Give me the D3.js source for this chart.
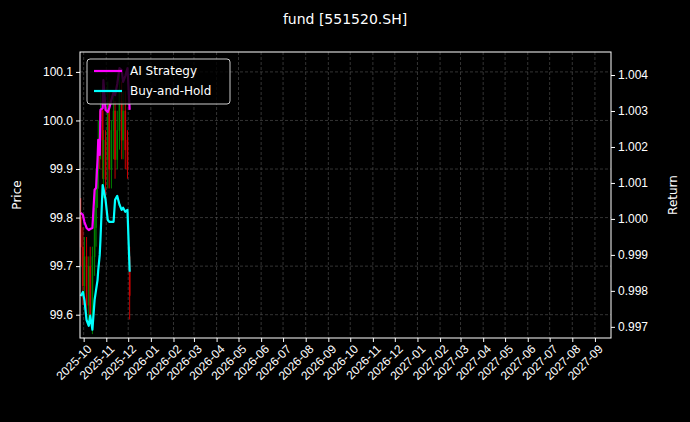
<!DOCTYPE html>
<html><head><meta charset="utf-8">
<script src="https://cdn.jsdelivr.net/npm/d3@7"></script>
<style>body{margin:0;background:#000}svg{font-family:"DejaVu Sans",sans-serif}</style>
</head><body><svg id="c" width="690" height="422"></svg>
<script>
const title = "fund [551520.SH]";
const dates = ["2025-09-27","2025-09-30","2025-10-02","2025-10-05","2025-10-08","2025-10-10","2025-10-13","2025-10-16","2025-10-18","2025-10-20","2025-10-21","2025-10-23","2025-10-24","2025-10-27","2025-10-28","2025-10-31","2025-11-03","2025-11-05","2025-11-08","2025-11-11","2025-11-13","2025-11-16","2025-11-19","2025-11-22","2025-11-24","2025-11-27","2025-11-30","2025-12-03"];
const aiStrategy = [1.00017,1.00011,0.99992,0.99975,0.99969,0.99972,0.99975,1.00081,1.00086,1.00164,1.0022,1.00178,1.00303,1.00308,1.00386,1.00303,1.00297,1.00308,1.00331,1.00353,1.00344,1.00375,1.00419,1.00414,1.00381,1.00397,1.00419,1.00303];
const buyHold = [0.99786,0.99797,0.99775,0.99719,0.99703,0.99731,0.99692,0.99775,0.99803,0.9983,0.99858,0.999,0.99942,1.00094,1.00086,1.00053,0.99997,0.99992,0.99992,0.99992,1.00053,1.00064,1.0004,1.00025,1.00031,1.0002,1.00025,0.99853];
const open  = [99.80,99.74,99.66,99.72,99.62,99.70,99.60,99.72,99.78,99.86,99.90,99.98,99.96,100.02,99.88,99.96,99.92,100.04,99.90,99.98,100.02,99.92,99.98,100.04,99.96,100.02,99.96,99.72];
const close = [99.74,99.66,99.72,99.62,99.70,99.60,99.72,99.78,99.86,99.90,99.96,99.94,100.02,99.92,99.96,99.88,100.04,99.90,99.98,100.02,99.92,99.98,100.06,99.96,100.02,99.94,99.90,99.64];
const high  = [99.84,99.78,99.76,99.76,99.72,99.74,99.74,99.82,99.90,99.94,100.00,100.02,100.06,100.06,99.98,99.98,100.08,100.06,100.00,100.06,100.04,100.02,100.10,100.08,100.06,100.06,99.98,99.74];
const low   = [99.70,99.62,99.64,99.60,99.58,99.58,99.56,99.68,99.74,99.82,99.86,99.90,99.92,99.88,99.84,99.84,99.86,99.86,99.86,99.92,99.88,99.90,99.94,99.92,99.92,99.90,99.88,99.59];
const priceTicks = [99.6,99.7,99.8,99.9,100.0,100.1];
const returnTicks = [0.997,0.998,0.999,1.000,1.001,1.002,1.003,1.004];
const legendNames = ["AI Strategy","Buy-and-Hold"];
const colors = ["#ff00ff","#00ffff"];

const svg = d3.select("#c");
svg.append("rect").attr("width",690).attr("height",422).attr("fill","#000");
const L=80,R=611,T=52,B=338;
const p = d3.timeParse("%Y-%m-%d");
const x = d3.scaleTime().domain([p("2025-09-26"),p("2027-09-23")]).range([L,R]);
const yP = d3.scaleLinear().domain([99.552,100.141]).range([B,T]);
const yR = d3.scaleLinear().domain([0.99669,1.00464]).range([B,T]);
const months = d3.timeMonth.range(p("2025-10-01"),p("2027-10-01"));
const g = svg.append("g");
g.selectAll(".gx").data(months).join("line").attr("x1",d=>x(d)).attr("x2",d=>x(d)).attr("y1",T).attr("y2",B)
 .attr("stroke","#555").attr("stroke-width",0.6).attr("stroke-dasharray","3,2");
g.selectAll(".gy").data(priceTicks).join("line").attr("x1",L).attr("x2",R).attr("y1",d=>yP(d)).attr("y2",d=>yP(d))
 .attr("stroke","#555").attr("stroke-width",0.6).attr("stroke-dasharray","3,2");
const bars = dates.map((d,i)=>({d:p(d),o:open[i],c:close[i],h:high[i],l:low[i]}));
g.selectAll(".wick").data(bars).join("line").attr("x1",d=>x(d.d)).attr("x2",d=>x(d.d))
 .attr("y1",d=>yP(d.h)).attr("y2",d=>yP(d.l)).attr("stroke",d=>d.c>=d.o?"#008000":"#cc0000").attr("stroke-width",1);
g.selectAll(".body").data(bars).join("rect").attr("x",d=>x(d.d)-0.8).attr("width",1.6)
 .attr("y",d=>yP(Math.max(d.o,d.c))).attr("height",d=>Math.abs(yP(d.o)-yP(d.c))+0.5)
 .attr("fill",d=>d.c>=d.o?"#008000":"#cc0000");
const line = d3.line().x(d=>x(d[0])).y(d=>yR(d[1]));
[aiStrategy,buyHold].forEach((s,k)=>{
  g.append("path").datum(dates.map((d,i)=>[p(d),s[i]])).attr("d",line).attr("fill","none")
   .attr("stroke",colors[k]).attr("stroke-width",2.2).attr("stroke-linejoin","round");
});
svg.append("rect").attr("x",L).attr("y",T).attr("width",R-L).attr("height",B-T).attr("fill","none").attr("stroke","#fff").attr("stroke-width",1);
const ax = svg.append("g").attr("transform",`translate(0,${B})`)
 .call(d3.axisBottom(x).tickValues(months).tickFormat(d3.timeFormat("%Y-%m")).tickSize(4));
const ay = svg.append("g").attr("transform",`translate(${L},0)`).call(d3.axisLeft(yP).tickValues(priceTicks).tickFormat(d3.format(".1f")).tickSize(4));
const ar = svg.append("g").attr("transform",`translate(${R},0)`).call(d3.axisRight(yR).tickValues(returnTicks).tickFormat(d3.format(".3f")).tickSize(4));
[ax,ay,ar].forEach(a=>{a.select(".domain").remove();a.selectAll("line").attr("stroke","#fff");a.selectAll("text").attr("fill","#fff").style("font-size","12px");});
ax.selectAll("text").attr("text-anchor","end").attr("transform","rotate(-45)").attr("dx","-0.2em").attr("dy","0.6em");
svg.append("text").attr("x",345).attr("y",24).attr("text-anchor","middle").attr("fill","#fff").style("font-size","14px").text(title);
svg.append("text").attr("transform","translate(21,195) rotate(-90)").attr("text-anchor","middle").attr("fill","#fff").style("font-size","12px").text("Price");
svg.append("text").attr("transform","translate(677,195) rotate(-90)").attr("text-anchor","middle").attr("fill","#fff").style("font-size","12px").text("Return");
const lg = svg.append("g").attr("transform","translate(87,59)");
lg.append("rect").attr("width",143).attr("height",45).attr("rx",3).attr("fill","#000").attr("fill-opacity",0.8).attr("stroke","#ccc");
legendNames.forEach((n,i)=>{
  lg.append("line").attr("x1",7).attr("x2",35).attr("y1",12+i*20).attr("y2",12+i*20).attr("stroke",colors[i]).attr("stroke-width",2.2);
  lg.append("text").attr("x",43).attr("y",16+i*20).attr("fill","#fff").style("font-size","12px").text(n);
});
</script></body></html>
